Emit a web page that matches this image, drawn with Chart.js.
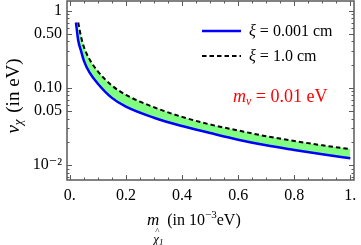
<!DOCTYPE html>
<html>
<head>
<meta charset="utf-8">
<script src="https://cdn.jsdelivr.net/npm/chart.js@4.4.1/dist/chart.umd.min.js"></script>
<style>
  html, body { margin: 0; padding: 0; background: #fff; }
</style>
</head>
<body>
<canvas id="chart" width="361" height="245"></canvas>
<script>
// values
const massBlue = [0.022, 0.03, 0.04, 0.05, 0.07, 0.1, 0.15, 0.2, 0.3, 0.4, 0.5, 0.6, 0.7, 0.8, 0.9, 1.0];
const nuBlue = [0.70, 0.41, 0.30, 0.225, 0.158, 0.113, 0.074, 0.057, 0.041, 0.032, 0.026, 0.0213, 0.0180, 0.0157, 0.0138, 0.0122];
const massDashed = [0.03, 0.04, 0.05, 0.07, 0.1, 0.15, 0.2, 0.3, 0.4, 0.5, 0.6, 0.7, 0.8, 0.9, 1.0];
const nuDashed = [0.70, 0.46, 0.34, 0.235, 0.163, 0.107, 0.081, 0.056, 0.042, 0.0335, 0.028, 0.0236, 0.0205, 0.018, 0.0161];

const xTickValues = [0, 0.2, 0.4, 0.6, 0.8, 1];
const xTickLabels = ['0.', '0.2', '0.4', '0.6', '0.8', '1.'];
const xMinorTicks = [0.05, 0.1, 0.15, 0.25, 0.3, 0.35, 0.45, 0.5, 0.55, 0.65, 0.7, 0.75, 0.85, 0.9, 0.95];
const yTickValues = [0.01, 0.05, 0.1, 0.5, 1];
const yTickLabels = ['10\u207B\u00B2', '0.05', '0.10', '0.50', '1'];
const yMinorTicks = [0.007, 0.008, 0.009, 0.02, 0.03, 0.04, 0.06, 0.07, 0.08, 0.09, 0.2, 0.3, 0.4, 0.6, 0.7, 0.8, 0.9];

const legendLabels = ['0.001 cm', '1.0 cm'];
const noteText = '0.01 eV';

const SERIF = '"Liberation Serif", "DejaVu Serif", serif';

function toPoints(xs, ys) {
    return xs.map((x, i) => ({ x: x, y: ys[i] }));
}

// draws text pieces one after the other, returns the end x
function drawRun(ctx, x, y, parts) {
    parts.forEach(p => {
        ctx.font = (p.italic ? 'italic ' : '') + p.size + 'px ' + SERIF;
        ctx.fillText(p.text, x, y + (p.dy || 0));
        x += ctx.measureText(p.text).width + (p.after || 0);
    });
    return x;
}

function runWidth(ctx, parts) {
    let w = 0;
    parts.forEach(p => {
        ctx.font = (p.italic ? 'italic ' : '') + p.size + 'px ' + SERIF;
        w += ctx.measureText(p.text).width + (p.after || 0);
    });
    return w;
}

const framePlugin = {
    id: 'frame',
    afterDraw(chart) {
        const { ctx, chartArea: a, scales: { x, y } } = chart;
        ctx.save();

        // frame
        ctx.strokeStyle = '#5a5a5a';
        ctx.lineWidth = 1.5;
        ctx.strokeRect(a.left, a.top, a.right - a.left, a.bottom - a.top);

        // inward tick marks on all four sides
        ctx.lineWidth = 1;
        ctx.beginPath();
        const xTick = (v, len) => {
            const px = Math.round(x.getPixelForValue(v)) + 0.5;
            ctx.moveTo(px, a.bottom); ctx.lineTo(px, a.bottom - len);
            ctx.moveTo(px, a.top); ctx.lineTo(px, a.top + len);
        };
        const yTick = (v, len) => {
            const py = Math.round(y.getPixelForValue(v)) + 0.5;
            ctx.moveTo(a.left, py); ctx.lineTo(a.left + len, py);
            ctx.moveTo(a.right, py); ctx.lineTo(a.right - len, py);
        };
        xTickValues.forEach(v => xTick(v, 5));
        xMinorTicks.forEach(v => xTick(v, 2.5));
        yTickValues.forEach(v => yTick(v, 5));
        yMinorTicks.forEach(v => yTick(v, 2.5));
        ctx.stroke();

        // legend
        ctx.lineWidth = 2.5;
        ctx.strokeStyle = '#0000ff';
        ctx.beginPath(); ctx.moveTo(202, 31); ctx.lineTo(241, 31); ctx.stroke();
        ctx.lineWidth = 2;
        ctx.strokeStyle = '#000';
        ctx.setLineDash([4.5, 3]);
        ctx.beginPath(); ctx.moveTo(202, 56); ctx.lineTo(241, 56); ctx.stroke();
        ctx.setLineDash([]);

        ctx.fillStyle = '#000';
        ctx.textBaseline = 'middle';
        ctx.textAlign = 'left';
        legendLabels.forEach((lab, i) => {
            drawRun(ctx, 249, i === 0 ? 32 : 57, [
                { text: '\u03BE', italic: true, size: 16 },
                { text: ' = ' + lab, size: 16 }
            ]);
        });

        // note
        ctx.fillStyle = '#ff0000';
        drawRun(ctx, 233, 97, [
            { text: 'm', italic: true, size: 18 },
            { text: '\u03BD', italic: true, size: 12, dy: 5 },
            { text: ' = ' + noteText, size: 18 }
        ]);

        // y axis title
        ctx.fillStyle = '#000';
        const yTitle = [
            { text: 'v', italic: true, size: 19 },
            { text: '\u03C7', italic: true, size: 13, dy: 5, after: 2 },
            { text: ' (in eV)', size: 19 }
        ];
        ctx.save();
        ctx.translate(14, 96);
        ctx.rotate(-Math.PI / 2);
        drawRun(ctx, -runWidth(ctx, yTitle) / 2, 0, yTitle);
        ctx.restore();

        // x axis title
        let cx = drawRun(ctx, 147, 221, [{ text: 'm', italic: true, size: 17 }]);
        ctx.font = '9px ' + SERIF;
        ctx.fillText('^', cx - 4, 232);
        drawRun(ctx, cx - 6, 240, [
            { text: '\u03C7', italic: true, size: 13 },
            { text: '1', italic: true, size: 9, dy: 3 }
        ]);
        cx = drawRun(ctx, cx + 8, 221, [{ text: '(in 10', size: 16 }]);
        cx = drawRun(ctx, cx, 215, [{ text: '\u22123', size: 11 }]);
        drawRun(ctx, cx, 221, [{ text: 'eV)', size: 16 }]);

        ctx.restore();
    }
};

new Chart(document.getElementById('chart'), {
    type: 'line',
    data: {
        datasets: [
            {
                label: 'xi = 1.0 cm',
                data: toPoints(massDashed, nuDashed),
                borderColor: '#000',
                borderWidth: 2,
                borderDash: [4.5, 3],
                pointRadius: 0,
                fill: false,
                cubicInterpolationMode: 'monotone'
            },
            {
                label: 'xi = 0.001 cm',
                data: toPoints(massBlue, nuBlue),
                borderColor: '#0000ff',
                borderWidth: 2.5,
                pointRadius: 0,
                backgroundColor: 'rgb(128,255,128)',
                fill: { target: 0 },
                cubicInterpolationMode: 'monotone'
            }
        ]
    },
    options: {
        responsive: false,
        devicePixelRatio: 1,
        animation: false,
        layout: { padding: { top: 1, right: 7, left: 0, bottom: 0 } },
        plugins: {
            legend: { display: false },
            tooltip: { enabled: false }
        },
        scales: {
            x: {
                type: 'linear',
                min: -0.01,
                max: 1.013,
                afterBuildTicks: s => { s.ticks = xTickValues.map(v => ({ value: v })); },
                afterFit: s => {
                    s.height = 65;
                    s.paddingLeft = 0; s.paddingRight = 0;
                },
                ticks: {
                    callback: (v, i) => xTickLabels[i],
                    font: { family: SERIF, size: 16 },
                    color: '#000',
                    padding: 6,
                    maxRotation: 0,
                    autoSkip: false
                },
                grid: { display: false, drawTicks: false },
                border: { display: false }
            },
            y: {
                type: 'logarithmic',
                min: 0.0064,
                max: 1.33,
                afterBuildTicks: s => { s.ticks = yTickValues.map(v => ({ value: v })); },
                afterFit: s => {
                    s.width = 67;
                    s.paddingTop = 0; s.paddingBottom = 0;
                },
                ticks: {
                    callback: (v, i) => yTickLabels[i],
                    font: { family: SERIF, size: 16 },
                    color: '#000',
                    padding: 5,
                    autoSkip: false
                },
                grid: { display: false, drawTicks: false },
                border: { display: false }
            }
        }
    },
    plugins: [framePlugin]
});
</script>
</body>
</html>
